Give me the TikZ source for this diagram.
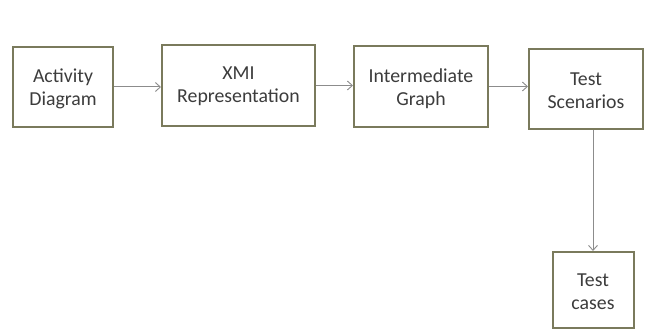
\documentclass[tikz,border=0pt]{standalone}
\usepackage{fontspec}
\setmainfont{Carlito}
\usetikzlibrary{arrows.meta}
\definecolor{boxline}{RGB}{122,122,92}
\definecolor{linkline}{RGB}{140,140,140}
\definecolor{labeltext}{RGB}{60,60,60}
\tikzset{
  stage/.style={draw=boxline, line width=2pt, fill=white, align=center,
    inner sep=0pt, text=labeltext,
    font=\fontsize{19.8}{23}\selectfont},
  caption/.style={align=center, inner sep=0pt, text=labeltext,
    font=\fontsize{19.8}{23}\selectfont},
  link/.style={draw=linkline, line width=1pt,
    -{Straight Barb[length=5pt,width=9pt,line width=0.9pt]}}
}
\begin{document}
\begin{tikzpicture}[x=1pt,y=-1pt]
  \useasboundingbox (0,0) rectangle (648,334);
  % boxes
  \node[stage, minimum width=100pt, minimum height=80pt] (act) at (63,87) {};
  \node[stage, minimum width=153pt, minimum height=81pt] (xmi) at (238.5,85.5) {};
  \node[stage, minimum width=134pt, minimum height=81pt] (ig) at (421,86.5) {};
  \node[stage, minimum width=114pt, minimum height=80pt] (ts) at (586,89) {};
  \node[stage, minimum width=81pt, minimum height=76pt] (tc) at (593,290) {};
  % labels, set slightly below each box centre
  \node[caption] (actl) at ([yshift=-2pt]act.center) {Activity\\Diagram};
  \node[caption] (xmil) at ([yshift=-1pt]xmi.center) {XMI\\Representation};
  \node[caption] (igl) at ([yshift=-2pt]ig.center) {Intermediate\\Graph};
  \node[caption] (tsl) at ([yshift=-2pt]ts.center) {Test\\Scenarios};
  \node[caption] (tcl) at ([yshift=-2pt]tc.center) {Test\\cases};
  % connectors
  \draw[link] (act.east) -- (act.east -| xmi.west);
  \draw[link] (xmi.east) -- (xmi.east -| ig.west);
  \draw[link] (ig.east) -- (ig.east -| ts.west);
  \draw[link] (ts.south -| tc.north) -- (tc.north);
\end{tikzpicture}
\end{document}
